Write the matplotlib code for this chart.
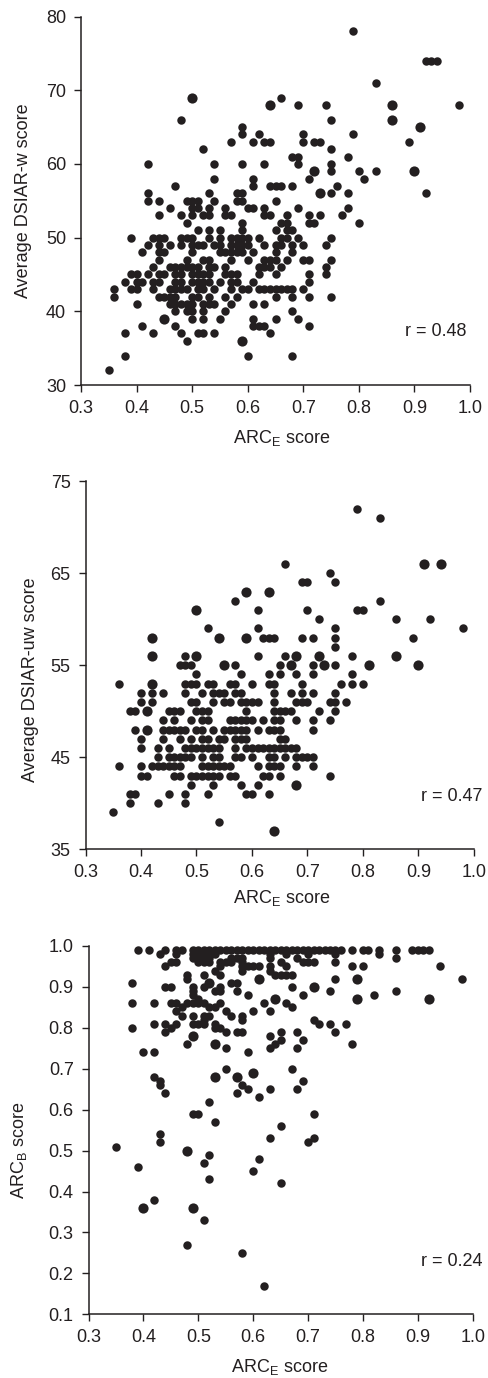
#!/usr/bin/env python3
# Three ARC_E scatter panels, values per row of points
import matplotlib
matplotlib.use("Agg")
import matplotlib.pyplot as plt

W, H = 488, 1378
INK = "#231f20"
FONT_PT = 13.0

plt.rcParams["font.family"] = ["Liberation Sans", "DejaVu Sans"]
plt.rcParams["mathtext.fontset"] = "custom"
plt.rcParams["mathtext.rm"] = "Liberation Sans"
plt.rcParams["mathtext.default"] = "rm"

# ─── panel 1: DSIAR-w ───────────────────────────────────────────────────────
w_scores = [78, 74, 71, 69, 68, 66, 65, 64, 63, 62, 61, 60, 59, 58, 57, 56, 55, 54, 53, 52,
            51, 50, 49, 48, 47, 46, 45, 44, 43, 42, 41, 40, 39, 38, 37, 36, 34, 32]
w_arc_rows = [
    [.79],
    [.92, .94, .93],
    [.83],
    [.50, .66],
    [.64, .69, .74, .86, .98],
    [.48, .75, .86],
    [.59, .91],
    [.59, .62, .70, .79],
    [.57, .61, .63, .64, .70, .72, .73, .89],
    [.52, .75],
    [.68, .69, .78],
    [.42, .54, .59, .63, .69, .75],
    [.72, .75, .80, .83, .90],
    [.54, .61, .71, .81],
    [.47, .61, .64, .65, .66, .68, .76],
    [.42, .53, .58, .59, .73, .75, .78, .92],
    [.42, .44, .49, .50, .51, .54, .58, .59, .65],
    [.46, .50, .51, .53, .56, .60, .61, .63, .69, .78],
    [.44, .48, .50, .52, .53, .56, .57, .63, .64, .67, .71, .73, .77],
    [.49, .59, .66, .67, .71, .72, .80],
    [.51, .53, .55, .59, .65, .67, .68],
    [.39, .43, .44, .45, .48, .49, .50, .53, .55, .57, .58, .59, .60, .62, .66, .67, .69, .75],
    [.42, .44, .46, .48, .50, .51, .52, .54, .55, .57, .58, .59, .60, .63, .65, .66, .68, .70, .74],
    [.41, .44, .45, .50, .55, .56, .57, .58, .59, .61, .65, .68],
    [.44, .49, .52, .53, .57, .60, .63, .64, .65, .67, .70, .71, .75],
    [.43, .46, .47, .48, .49, .50, .51, .53, .54, .56, .62, .63, .64, .66, .74],
    [.39, .40, .42, .44, .45, .47, .48, .50, .51, .52, .53, .56, .57, .58, .62, .65, .71, .74],
    [.38, .40, .41, .43, .44, .47, .48, .50, .51, .52, .53, .55, .57, .58, .61, .71],
    [.36, .39, .40, .43, .46, .47, .48, .49, .51, .52, .54, .57, .59, .60, .62, .63, .64, .65, .66, .67, .68, .70],
    [.36, .44, .45, .46, .47, .50, .51, .53, .56, .58, .65, .68, .71, .75],
    [.40, .46, .47, .48, .49, .50, .52, .53, .54, .57, .61, .63],
    [.47, .49, .50, .52, .56, .68],
    [.45, .50, .52, .55, .61, .65, .69],
    [.41, .47, .61, .62, .63, .71],
    [.38, .43, .48, .51, .52, .54, .64],
    [.49, .59],
    [.38, .60, .68],
    [.35],
]

# ─── panel 2: DSIAR-uw ──────────────────────────────────────────────────────
uw_scores = [72, 71, 66, 65, 64, 63, 62, 61, 60, 59, 58, 57, 56, 55, 54, 53, 52, 51, 50,
             49, 48, 47, 46, 45, 44, 43, 42, 41, 40, 39, 38, 37]
uw_arc_rows = [
    [.79],
    [.83],
    [.66, .91, .94],
    [.74],
    [.69, .70, .75],
    [.59, .63],
    [.57, .83],
    [.50, .61, .70, .79, .80],
    [.72, .86, .92],
    [.52, .61, .75, .98],
    [.42, .54, .59, .62, .63, .64, .69, .71, .75, .89],
    [.75],
    [.42, .48, .50, .61, .66, .68, .72, .78, .86],
    [.47, .48, .49, .55, .57, .65, .67, .71, .73, .75, .81, .90],
    [.50, .58, .63, .65, .68, .71, .78],
    [.36, .42, .48, .49, .50, .52, .53, .56, .57, .60, .63, .64, .69, .76, .78, .80],
    [.40, .42, .44, .48, .51, .53, .54, .55, .57, .58, .64, .67, .69, .71, .75],
    [.40, .42, .49, .50, .53, .55, .56, .58, .59, .60, .61, .64, .68, .69, .70, .74, .75, .77],
    [.38, .39, .41, .45, .46, .47, .50, .51, .52, .59, .64, .65, .66, .67, .72, .75],
    [.44, .46, .49, .51, .52, .56, .57, .58, .59, .60, .62, .64, .65, .68, .71, .74],
    [.39, .41, .44, .45, .46, .47, .48, .50, .51, .53, .55, .56, .57, .58, .59, .61, .63, .64, .65, .71],
    [.40, .44, .47, .49, .51, .52, .54, .55, .57, .58, .59, .65, .66],
    [.40, .43, .45, .48, .49, .50, .51, .52, .53, .54, .57, .59, .60, .61, .62, .63, .64, .65, .66, .67, .68],
    [.43, .45, .46, .47, .48, .49, .51, .53, .54, .57, .58, .60, .63, .64, .66, .68, .69, .70, .71],
    [.36, .40, .42, .43, .44, .45, .46, .47, .51, .52, .53, .54, .55, .56, .61, .63, .64, .65, .68, .71],
    [.40, .41, .46, .47, .49, .50, .51, .52, .53, .54, .56, .57, .62, .63, .65, .74],
    [.49, .53, .58, .61, .68],
    [.38, .39, .45, .48, .52, .59, .60, .63],
    [.38, .43, .48],
    [.35],
    [.54],
    [.64],
]

# ─── panel 3: ARC_B ─────────────────────────────────────────────────────────
arcb_scores = [.99, .98, .97, .96, .95, .94, .93, .92, .91, .90, .89, .88, .87, .86, .85, .84, .83, .82,
               .81, .80, .79, .78, .77, .76, .75, .74, .70, .69, .68, .67, .66, .65, .64, .63, .62,
               .59, .57, .56, .54, .53, .52, .51, .50, .49, .48, .47, .46, .45, .43, .42, .38, .36,
               .33, .27, .25, .17]
arcb_arc_rows = [
    [.39, .41, .44, .46, .47, .49, .50, .51, .52, .53, .54, .55, .56, .57, .58, .59, .60, .61, .62, .63, .64,
     .65, .66, .67, .68, .69, .70, .71, .72, .73, .74, .75, .76, .78, .80, .81, .83, .86, .89, .90, .91, .92],
    [.43, .46, .49, .50, .51, .52, .53, .63, .66, .70, .75, .83],
    [.49, .50, .51, .52, .56, .57, .58, .63, .68, .86],
    [.45, .46, .50, .51, .52, .54, .55, .56, .58, .65, .69, .70, .71, .75],
    [.44, .54, .58, .59, .60, .61, .63, .66, .78, .80, .94],
    [.53, .58, .63],
    [.48, .51, .54, .64, .65, .66, .67],
    [.48, .61, .75, .79, .98],
    [.38, .52, .56, .57],
    [.44, .45, .49, .51, .54, .67, .71],
    [.49, .53, .54, .57, .74, .86],
    [.49, .59, .69, .82],
    [.50, .64, .79, .92],
    [.38, .42, .45, .46, .48, .49, .50, .51, .54, .62, .66],
    [.47, .52, .53, .67],
    [.46, .55, .60, .63],
    [.47, .49, .51, .52, .56, .58],
    [.51, .58, .71],
    [.42, .44, .46, .49, .50, .51, .53, .72, .74, .77],
    [.38, .45, .53, .54],
    [.44, .55, .57, .58, .65, .68, .75],
    [.49, .63],
    [.65, .69],
    [.48, .53, .64, .78],
    [.55, .63, .68],
    [.40, .42, .59],
    [.55, .67],
    [.60],
    [.42, .53, .57],
    [.43, .69],
    [.43, .58],
    [.59, .63, .68],
    [.44, .57],
    [.61],
    [.52],
    [.49, .50, .71],
    [.53],
    [.65],
    [.43],
    [.63, .71],
    [.43, .70],
    [.35],
    [.48],
    [.52],
    [.61],
    [.51],
    [.39],
    [.60],
    [.52],
    [.65],
    [.42],
    [.40, .49],
    [.51],
    [.48],
    [.58],
    [.62],
]

# Doubled respondents print as a fatter dot
w_big_arc = [.50, .64, .86, .86, .91, .72, .90, .73, .45, .59]
w_big_score = [69, 68, 68, 66, 65, 59, 59, 56, 39, 36]
uw_big_arc = [.91, .94, .59, .63, .50, .42, .54, .59, .42, .50, .68, .72, .86, .55, .67, .73, .81, .90, .42, .41, .41, .68, .64]
uw_big_score = [66, 66, 63, 63, 61, 58, 58, 58, 56, 56, 56, 56, 56, 55, 55, 55, 55, 55, 53, 50, 48, 42, 37]
arcb_big_arc = [.61, .79, .52, .71, .64, .79, .92, .49, .53, .60, .53, .57, .48, .40, .49]
arcb_big_score = [.92, .92, .91, .90, .87, .87, .87, .78, .76, .69, .68, .68, .50, .36, .36]

x_ticks = [.3, .4, .5, .6, .7, .8, .9, 1.0]


def expand(scores, rows):
    xs, ys = [], []
    for s, r in zip(scores, rows):
        xs += r
        ys += [s] * len(r)
    return xs, ys


def panel(box, rows, scores, big_x, big_y, ylim, yticks, yfmt):
    left, top, right, bottom = box
    ax = fig.add_axes([left / W, 1 - bottom / H, (right - left) / W, (bottom - top) / H])
    xs, ys = expand(scores, rows)
    ax.scatter(xs, ys, s=37, color=INK, linewidths=0, clip_on=False, zorder=3)
    ax.scatter(big_x, big_y, s=54, color=INK, linewidths=0, clip_on=False, zorder=3)
    ax.set_xlim(.3, 1.0)
    ax.set_ylim(*ylim)
    ax.set_xticks(x_ticks)
    ax.set_xticklabels([f"{t:.1f}" for t in x_ticks])
    ax.set_yticks(yticks)
    ax.set_yticklabels([yfmt.format(t) for t in yticks])
    ax.spines[["top", "right"]].set_visible(False)
    ax.spines[["left", "bottom"]].set_linewidth(1.1)
    ax.spines[["left", "bottom"]].set_color(INK)
    ax.tick_params(length=4.7, width=1.0, color=INK, labelcolor=INK, labelsize=FONT_PT, pad=6)
    return ax


def px_text(x, y, s, **kw):
    fig.text(x / W, 1 - y / H, s, color=INK, ha="center", va="center", fontsize=FONT_PT, **kw)


fig = plt.figure(figsize=(W / 100, H / 100), dpi=100)

panel((81, 16.5, 470, 385), w_arc_rows, w_scores, w_big_arc, w_big_score,
      (30, 80), [30, 40, 50, 60, 70, 80], "{:d}")
panel((85.5, 481.3, 474, 849.3), uw_arc_rows, uw_scores, uw_big_arc, uw_big_score,
      (35, 75), [35, 45, 55, 65, 75], "{:d}")
panel((88.5, 946, 472.7, 1314.3), arcb_arc_rows, arcb_scores, arcb_big_arc, arcb_big_score,
      (.1, 1.0), [.1, .2, .3, .4, .5, .6, .7, .8, .9, 1.0], "{:.1f}")

px_text(24, 201, "Average DSIAR-w score", rotation=90)
px_text(31, 680, "Average DSIAR-uw score", rotation=90)
px_text(19, 1150, r"ARC$_{\mathrm{B}}$ score", rotation=90)
px_text(282, 438, r"ARC$_{\mathrm{E}}$ score")
px_text(282, 898, r"ARC$_{\mathrm{E}}$ score")
px_text(280, 1367, r"ARC$_{\mathrm{E}}$ score")
px_text(436, 332, "r = 0.48")
px_text(452, 796, "r = 0.47")
px_text(452, 1262, "r = 0.24")

fig.savefig("out.png", dpi=100)
